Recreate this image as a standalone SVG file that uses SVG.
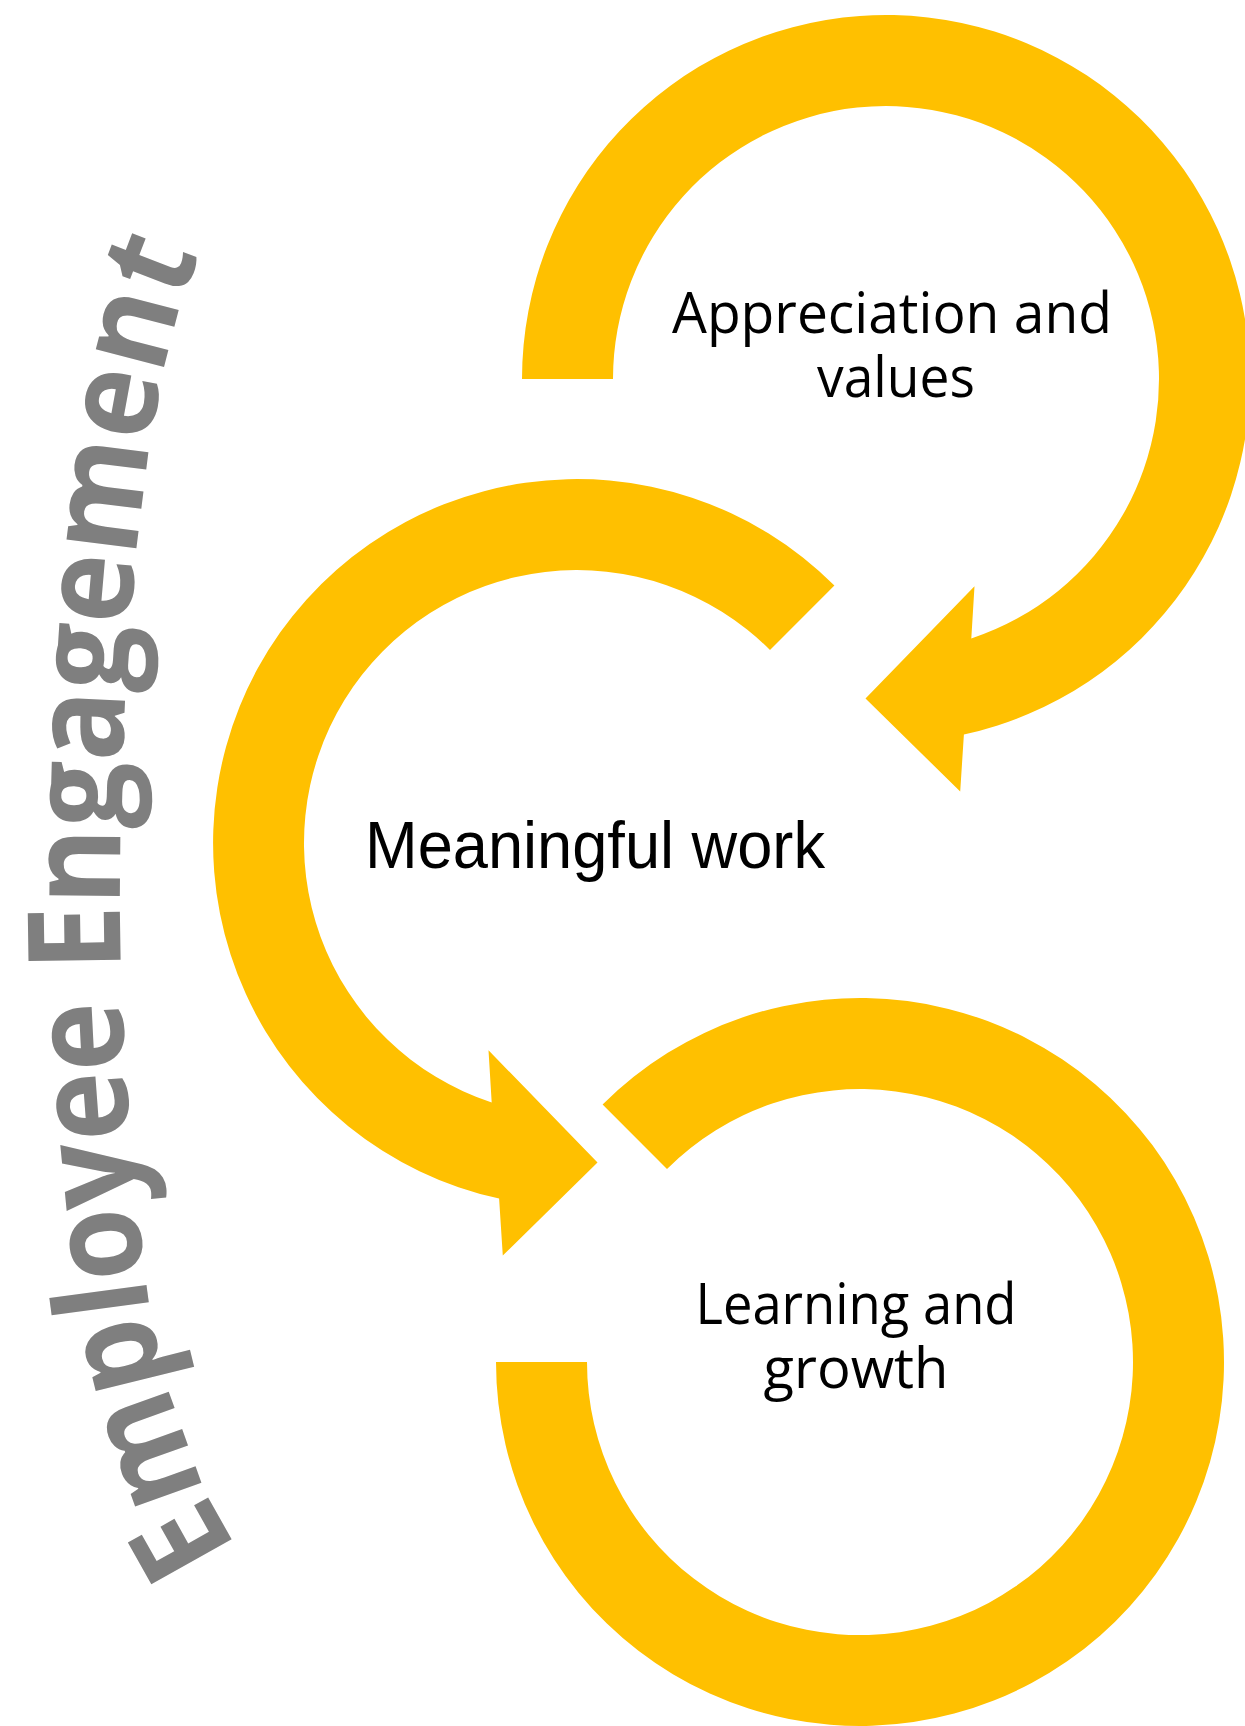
<svg xmlns="http://www.w3.org/2000/svg" xmlns:xlink="http://www.w3.org/1999/xlink" width="1245" height="1726" viewBox="0 0 1245 1726">
  <style>
    .ring { fill: #FFC000; stroke: none; }
    .label { font-family: "Open Sans", "Noto Sans", "Liberation Sans", sans-serif; font-size: 56px; fill: #000000; text-anchor: middle; }
    .label-arial { font-family: "Liberation Sans", Arial, sans-serif; font-size: 67px; fill: #000000; }
    .title { font-family: "Open Sans", "Noto Sans", "Liberation Sans", sans-serif; font-weight: 700; font-size: 129px; fill: #7F7F7F; }
  </style>
  <defs>
    <!-- baseline curve for the vertical title, running bottom to top -->
    <path id="title-curve" d="M 240 1546 L 233 1538 C 206 1508 158 1369 150 1310 C 132 1181 120 1040 120 900 C 120 700 137 376 205 245 L 225 207"/>
  </defs>

  <rect x="0" y="0" width="1245" height="1726" fill="#FFFFFF"/>

  <!-- circular arrows (each ring ends in its own arrowhead) -->
  <g id="connectors">
    <!-- top ring: centre (886,379), clockwise, arrow pointing into the middle ring -->
    <path id="ring-appreciation" class="ring" d="M 522 379 A 364 364 0 1 1 963.9 734.6 L 960.2 791.5 L 865.5 698.5 L 974.5 586.3 L 971.3 638.4 A 273 273 0 1 0 613 379 Z"/>
    <!-- middle ring: centre (577,843), counter-clockwise, arrow pointing into the bottom ring -->
    <path id="ring-meaningful" class="ring" d="M 834.4 585.6 A 364 364 0 1 0 499.1 1198.6 L 502.8 1255.5 L 597.5 1162.5 L 488.5 1050.3 L 491.7 1102.4 A 273 273 0 1 1 770 650 Z"/>
    <!-- bottom ring: centre (860,1362), clockwise, flat end on the left -->
    <path id="ring-learning" class="ring" d="M 602.6 1104.6 A 364 364 0 1 1 496 1362 L 587 1362 A 273 273 0 1 0 667 1169 Z"/>
  </g>

  <g id="node-appreciation">
    <text class="label" x="892" y="333" textLength="440" lengthAdjust="spacingAndGlyphs">Appreciation and</text>
    <text class="label" x="896" y="397" textLength="158" lengthAdjust="spacingAndGlyphs">values</text>
  </g>

  <g id="node-meaningful">
    <text class="label-arial" x="365" y="868" textLength="460" lengthAdjust="spacingAndGlyphs">Meaningful work</text>
  </g>

  <g id="node-learning">
    <text class="label" x="856" y="1324" textLength="321" lengthAdjust="spacingAndGlyphs">Learning and</text>
    <text class="label" x="856" y="1388" textLength="185" lengthAdjust="spacingAndGlyphs">growth</text>
  </g>

  <g id="title">
    <text class="title"><textPath xlink:href="#title-curve" href="#title-curve" textLength="1320" lengthAdjust="spacingAndGlyphs">Employee Engagement</textPath></text>
  </g>
</svg>
